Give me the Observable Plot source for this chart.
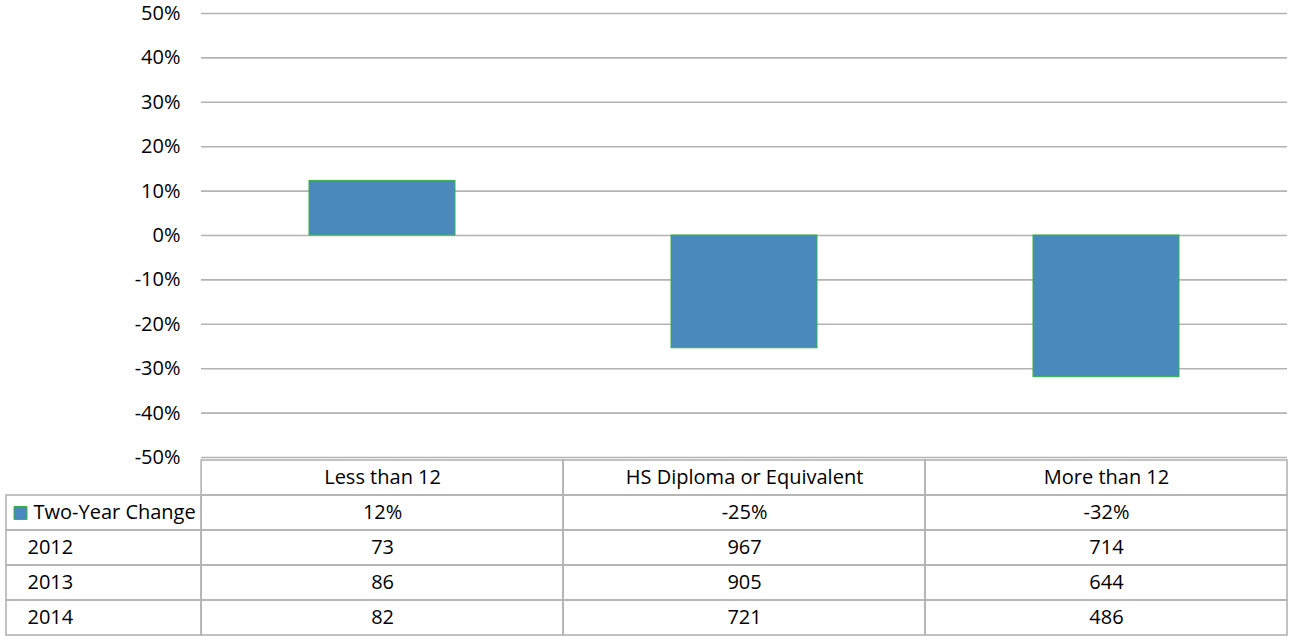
<!DOCTYPE html>
<html>
<head>
<meta charset="utf-8">
<script src="https://cdn.jsdelivr.net/npm/d3@7"></script>
<script src="https://cdn.jsdelivr.net/npm/@observablehq/plot@0.6"></script>
<style>
  html, body { margin: 0; padding: 0; background: #fff; }
  #chart svg, #table svg { display: block; }
  #chart, #table { width: 1289px; }
  #chart { position: relative; z-index: 2; height: 458px; }
  #chart svg { overflow: visible; }
  #table { position: relative; z-index: 1; }
</style>
</head>
<body>
<div id="chart"></div>
<div id="table"></div>
<script>
// ---- data ----
const categories = ["Less than 12", "HS Diploma or Equivalent", "More than 12"];
const seriesName = "Two-Year Change";
const twoYearChange = [12.3, -25.4, -31.9];       // percent
const changeLabels = ["12%", "-25%", "-32%"];
const years = ["2012", "2013", "2014"];
const values2012 = [73, 967, 714];
const values2013 = [86, 905, 644];
const values2014 = [82, 721, 486];
const yTicks = [-50, -40, -30, -20, -10, 0, 10, 20, 30, 40, 50];

const FONT = "'Open Sans', sans-serif";
const FONT_SIZE = "20px";
const GRID = "#b3b3b3";
const BAR = "#4a89bc";
const BAR_STROKE = "#35b24a";

const bars = categories.map((c, i) => ({category: c, value: twoYearChange[i]}));

const chart = Plot.plot({
  width: 1289,
  height: 458,
  marginTop: 13,
  marginBottom: 1,
  marginLeft: 201,
  marginRight: 2,
  style: {fontFamily: FONT, fontSize: FONT_SIZE, color: "#000", background: "transparent", overflow: "visible"},
  x: {domain: categories, paddingInner: 0.597, paddingOuter: 0.2985, axis: null},
  y: {domain: [-50, 50], ticks: yTicks, tickFormat: d => d + "%", tickSize: 0, tickPadding: 21, label: null},
  marks: [
    Plot.ruleY(yTicks, {stroke: GRID, strokeWidth: 1.6}),
    Plot.barY(bars, {x: "category", y: "value", fill: BAR, stroke: BAR_STROKE, strokeWidth: 1}),
    Plot.ruleX([0], {frameAnchor: "left", stroke: GRID, strokeWidth: 1.6})
  ]
});
chart.querySelectorAll("text").forEach(t => t.setAttribute("fill", "#000"));
document.getElementById("chart").append(chart);

// ---- data table below the chart ----
const rows = ["header", seriesName, ...years];
const rowValues = {
  [seriesName]: changeLabels,
  "2012": values2012,
  "2013": values2013,
  "2014": values2014
};
const cells = [];
const cellText = [];
categories.forEach((c, i) => {
  cells.push({row: "header", x1: i, x2: i + 1});
  cellText.push({row: "header", x: i + 0.5, text: c});
});
rows.slice(1).forEach(r => {
  cells.push({row: r, x1: -0.539, x2: 0});
  categories.forEach((c, i) => {
    cells.push({row: r, x1: i, x2: i + 1});
    cellText.push({row: r, x: i + 0.5, text: String(rowValues[r][i])});
  });
});
const legendRow = [{row: seriesName, text: seriesName, x: -0.539}];
const yearRows = years.map(y => ({row: y, text: y, x: -0.539}));

const table = Plot.plot({
  width: 1289,
  height: 179,
  marginTop: 0,
  marginBottom: 0,
  marginLeft: 6,
  marginRight: 2,
  style: {fontFamily: FONT, fontSize: FONT_SIZE, color: "#000", background: "#fff"},
  x: {domain: [-0.539, 3], axis: null},
  y: {domain: rows, padding: 0, axis: null},
  marks: [
    Plot.barX(cells, {x1: "x1", x2: "x2", y: "row", fill: "none", stroke: GRID, strokeWidth: 1.6}),
    Plot.text(cellText, {x: "x", y: "row", text: "text", fill: "#000"}),
    Plot.text(legendRow, {x: "x", y: "row", text: "text", textAnchor: "start", dx: 27, fill: "#000"}),
    Plot.text(yearRows, {x: "x", y: "row", text: "text", textAnchor: "start", dx: 21, fill: "#000"}),
    Plot.dot(legendRow, {x: "x", y: "row", dx: 14, symbol: "square", r: 7.3, fill: BAR, stroke: BAR_STROKE, strokeWidth: 1})
  ]
});
document.getElementById("table").append(table);
</script>
</body>
</html>
